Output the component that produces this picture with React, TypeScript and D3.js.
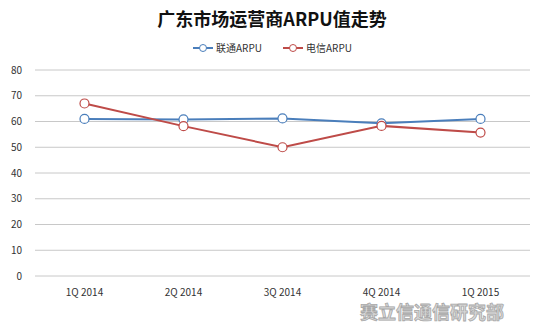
import React from "react";
import * as d3 from "d3";

const categories = ["1Q 2014", "2Q 2014", "3Q 2014", "4Q 2014", "1Q 2015"];
const unicom = [61.0, 60.8, 61.2, 59.3, 61.0];
const telecom = [67.0, 58.2, 50.0, 58.3, 55.7];
const yTicks = [0, 10, 20, 30, 40, 50, 60, 70, 80];
const seriesNames = ["联通ARPU", "电信ARPU"];
const title = "广东市场运营商ARPU值走势";
const watermark = "赛立信通信研究部";

const W = 544;
const H = 327;
const left = 35;
const right = 530;
const top = 70;
const bottom = 276;
const colors = ["#4A7EBB", "#BE4B48"];
const font = "'Noto Sans CJK SC', 'Noto Sans', sans-serif";

export default function App() {
  const x = d3.scaleBand<string>().domain(categories).range([left, right]);
  const y = d3.scaleLinear().domain([0, 80]).range([bottom, top]);
  const line = d3
    .line<number>()
    .x((_, i) => (x(categories[i]) as number) + x.bandwidth() / 2)
    .y((d) => y(d));
  const series = [unicom, telecom];

  return (
    <svg
      width={W}
      height={H}
      style={{ position: "absolute", left: 0, top: 0, background: "#fff" }}
      fontFamily={font}
    >
      <rect width={W} height={H} fill="#fff" />
      <text x={272} y={26} textAnchor="middle" fontSize={18} fontWeight="bold" fill="#111">
        {title}
      </text>
      {yTicks.map((t) => (
        <g key={t}>
          <line x1={left} x2={right} y1={y(t)} y2={y(t)} stroke="#C8C8C8" strokeWidth={1} />
          <text x={22} y={y(t) + 3.5} textAnchor="end" fontSize={10} fill="#333">
            {t}
          </text>
        </g>
      ))}
      {categories.map((c) => (
        <text
          key={c}
          x={(x(c) as number) + x.bandwidth() / 2}
          y={296}
          textAnchor="middle"
          fontSize={10}
          fill="#333"
        >
          {c}
        </text>
      ))}
      {series.map((s, si) => (
        <g key={si}>
          <path d={line(s) || ""} fill="none" stroke={colors[si]} strokeWidth={2} />
          {s.map((v, i) => (
            <circle
              key={i}
              cx={(x(categories[i]) as number) + x.bandwidth() / 2}
              cy={y(v)}
              r={4.5}
              fill="#fff"
              stroke={colors[si]}
              strokeWidth={1.2}
            />
          ))}
        </g>
      ))}
      {seriesNames.map((n, i) => {
        const lx = [193, 283][i];
        return (
          <g key={n}>
            <line x1={lx} x2={lx + 20} y1={48} y2={48} stroke={colors[i]} strokeWidth={2} />
            <circle cx={lx + 10} cy={48} r={3.5} fill="#fff" stroke={colors[i]} strokeWidth={1} />
            <text x={lx + 23} y={51.5} fontSize={10} fill="#333">
              {n}
            </text>
          </g>
        );
      })}
      <text
        x={432}
        y={319}
        textAnchor="middle"
        fontSize={18}
        fontWeight="bold"
        fill="#D8D8D8"
        stroke="#A8A8A8"
        strokeWidth={0.8}
        letterSpacing={0}
      >
        {watermark}
      </text>
    </svg>
  );
}
